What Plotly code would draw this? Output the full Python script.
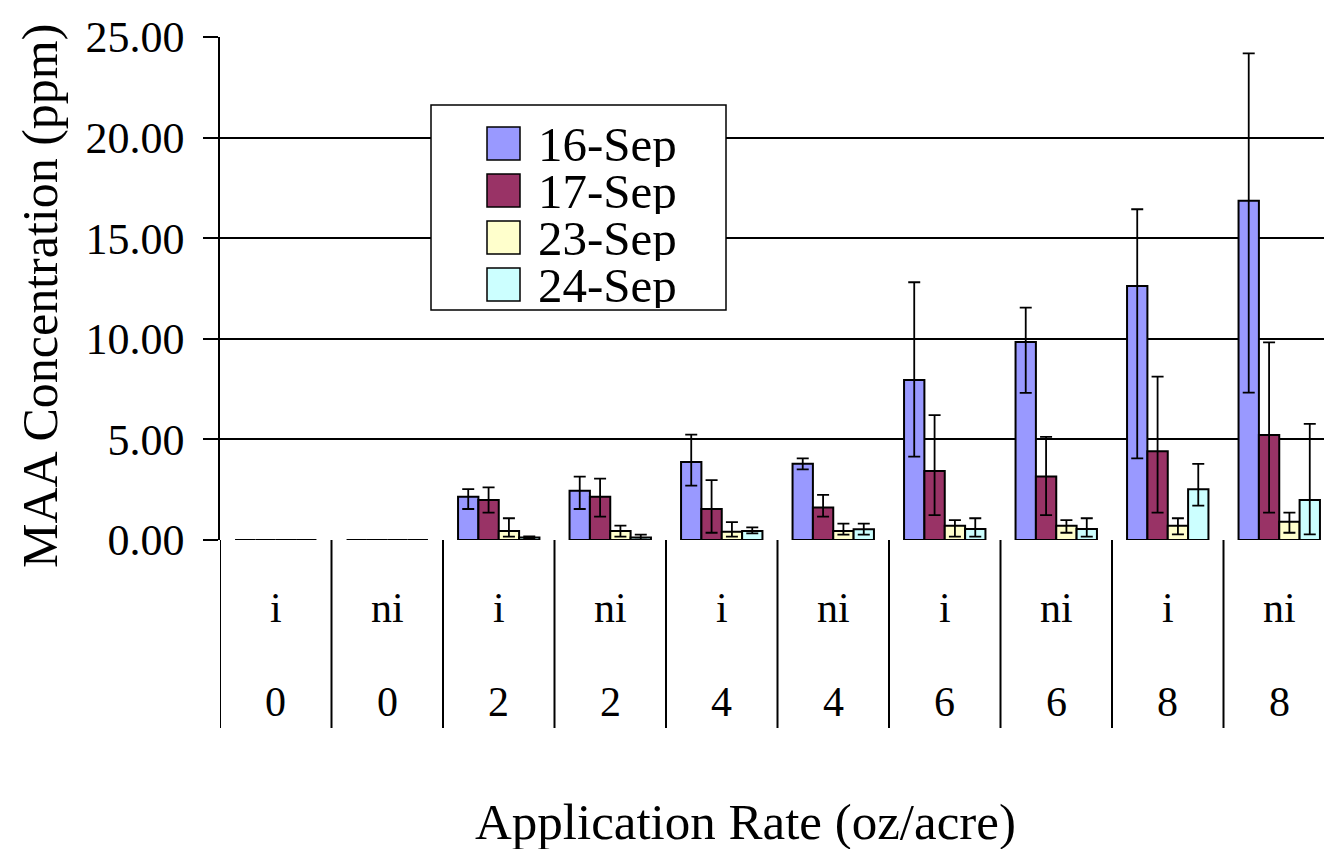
import plotly.graph_objects as go

# ---------------- data ----------------
cat_type = ["i", "ni", "i", "ni", "i", "ni", "i", "ni", "i", "ni"]
cat_rate = ["0", "0", "2", "2", "4", "4", "6", "6", "8", "8"]
series_names = ["16-Sep", "17-Sep", "23-Sep", "24-Sep"]

s16 = [0, 0, 2.15, 2.45, 3.88, 3.79, 7.95, 9.84, 12.62, 16.86]
s16_hi = [0, 0, 2.53, 3.15, 5.24, 4.06, 12.81, 11.55, 16.44, 24.19]
s16_lo = [0, 0, 1.54, 1.54, 2.70, 3.51, 4.14, 7.31, 4.06, 7.32]

s17 = [0, 0, 1.99, 2.15, 1.54, 1.62, 3.43, 3.15, 4.41, 5.22]
s17_hi = [0, 0, 2.62, 3.05, 2.98, 2.24, 6.21, 5.13, 8.12, 9.82]
s17_lo = [0, 0, 1.36, 1.16, 0.36, 1.16, 1.24, 1.24, 1.36, 1.36]

s23 = [0, 0, 0.45, 0.45, 0.41, 0.45, 0.71, 0.71, 0.71, 0.91]
s23_hi = [0, 0, 1.08, 0.71, 0.89, 0.81, 0.99, 0.99, 1.08, 1.36]
s23_lo = [0, 0, 0.17, 0.17, 0.17, 0.27, 0.17, 0.36, 0.28, 0.36]

s24 = [0, 0, 0.12, 0.12, 0.45, 0.53, 0.55, 0.55, 2.52, 1.99]
s24_hi = [0, 0, 0.18, 0.27, 0.63, 0.81, 1.08, 1.08, 3.78, 5.77]
s24_lo = [0, 0, 0.10, 0.02, 0.33, 0.27, 0.17, 0.17, 1.71, 0.28]

y_ticks = [0, 5, 10, 15, 20, 25]
y_title = "MAA Concentration (ppm)"
x_title = "Application Rate (oz/acre)"

colors = ["#9999FF", "#993366", "#FFFFCC", "#CCFFFF"]
FONT = "Liberation Serif"

# ---------------- layout geometry (page pixels; page has 8px body margin) ----------------
OFF = 8
W, H = 1332, 849
L, T, B = 220, 37, 540          # page-pixel positions of plot area
ml, mt = L - OFF, T - OFF
mb = H - (B - OFF)
PW = W - ml
PH = B - T


def px(x):
    return (x - L) / PW


def py(y):
    return (B - y) / PH


fig = go.Figure()
values = [s16, s17, s23, s24]
his = [s16_hi, s17_hi, s23_hi, s24_hi]
los = [s16_lo, s17_lo, s23_lo, s24_lo]
xs = list(range(len(cat_type)))
for name, v, hi, lo, c in zip(series_names, values, his, los, colors):
    fig.add_trace(go.Bar(
        x=xs, y=v, name=name,
        marker=dict(color=c, line=dict(color="black", width=2)),
        error_y=dict(type="data", symmetric=False,
                     array=[h - a for h, a in zip(hi, v)],
                     arrayminus=[a - l for a, l in zip(v, lo)],
                     color="black", thickness=1.8, width=6),
        showlegend=False,
    ))

shapes = []
annotations = []
# separators below axis
for k in range(len(cat_type)):
    shapes.append(dict(type="line", xref="x", yref="paper",
                       x0=k - 0.5, x1=k - 0.5, y0=0, y1=py(728),
                       line=dict(color="black", width=2)))
    annotations.append(dict(x=k, y=py(608), xref="x", yref="paper",
                            text=cat_type[k], showarrow=False,
                            xanchor="center", yanchor="middle",
                            font=dict(family=FONT, size=42, color="black")))
    annotations.append(dict(x=k, y=py(702), xref="x", yref="paper",
                            text=cat_rate[k], showarrow=False,
                            xanchor="center", yanchor="middle",
                            font=dict(family=FONT, size=42, color="black")))

# axis titles
annotations.append(dict(x=px(745), y=py(822), xref="paper", yref="paper",
                        text=x_title, showarrow=False,
                        xanchor="center", yanchor="middle",
                        font=dict(family=FONT, size=51, color="black")))
annotations.append(dict(x=px(40), y=py(296), xref="paper", yref="paper",
                        text=y_title, showarrow=False, textangle=-90,
                        xanchor="center", yanchor="middle",
                        font=dict(family=FONT, size=50, color="black")))

# manual legend
shapes.append(dict(type="rect", xref="paper", yref="paper",
                   x0=px(431), x1=px(726), y0=py(105), y1=py(310),
                   fillcolor="white", line=dict(color="black", width=1.5),
                   layer="above"))
sw_top = [127, 174, 221, 268]
for i, (name, c) in enumerate(zip(series_names, colors)):
    shapes.append(dict(type="rect", xref="paper", yref="paper",
                       x0=px(487), x1=px(520), y0=py(sw_top[i]), y1=py(sw_top[i] + 33),
                       fillcolor=c, line=dict(color="black", width=1.5),
                       layer="above"))
    annotations.append(dict(x=px(536), y=py(sw_top[i] + 17), xref="paper", yref="paper",
                            text=name, showarrow=False, xanchor="left", yanchor="middle",
                            height=45, valign="middle",
                            font=dict(family=FONT, size=49, color="black")))

fig.update_layout(
    width=W, height=H,
    margin=dict(l=ml, r=0, t=mt, b=mb, pad=0),
    paper_bgcolor="white", plot_bgcolor="white",
    barmode="group", bargap=0.27, bargroupgap=0,
    font=dict(family=FONT, size=42, color="black"),
    shapes=shapes, annotations=annotations,
    xaxis=dict(range=[-0.5, -0.5 + PW / 111.5], showticklabels=False,
               showgrid=False, zeroline=False, showline=False, ticks=""),
    yaxis=dict(range=[0, 25], tickvals=y_ticks, tickformat=".2f",
               showgrid=True, gridcolor="black", gridwidth=1.5,
               showline=True, linecolor="black", linewidth=1.5,
               ticks="outside", ticklen=15, tickwidth=1.5, tickcolor="black",
               ticklabelstandoff=10, zeroline=False,
               tickfont=dict(family=FONT, size=44, color="black")),
)

fig.write_html("out.html")
